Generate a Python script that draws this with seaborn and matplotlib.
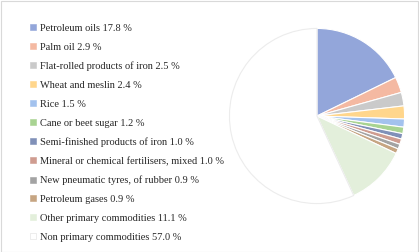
import matplotlib
matplotlib.use("Agg")
import matplotlib.pyplot as plt
import seaborn as sns
from matplotlib.lines import Line2D
from matplotlib.patches import Rectangle

sns.set_theme(style="white")
plt.rcParams['font.family'] = ['Liberation Serif', 'DejaVu Serif']

categories = ["Petroleum oils", "Palm oil", "Flat-rolled products of iron", "Wheat and meslin",
              "Rice", "Cane or beet sugar", "Semi-finished products of iron",
              "Mineral or chemical fertilisers, mixed", "New pneumatic tyres, of rubber",
              "Petroleum gases", "Other primary commodities", "Non primary commodities"]
values = [17.8, 2.9, 2.5, 2.4, 1.5, 1.2, 1.0, 1.0, 0.9, 0.9, 11.1, 57.0]
colors = ["#93a6da", "#f4b9a2", "#cacaca", "#ffd68c", "#a3c2ee", "#a8d392",
          "#8090b8", "#cf9c90", "#a3a3a3", "#c6a582", "#e3efdb", "#ffffff"]

W, H = 419, 252
fig = plt.figure(figsize=(W / 100, H / 100), dpi=100)
fig.patch.set_facecolor("white")
fig.patches.append(Rectangle((0.5 / W, 0.5 / H), 1 - 1.5 / W, 1 - 1.5 / H, transform=fig.transFigure,
                             fill=False, edgecolor="#d9d9d9", linewidth=0.8))

cx, cy, r = 317, 116, 88
ax = fig.add_axes([(cx - r) / W, (H - cy - r) / H, 2 * r / W, 2 * r / H])
wedges, _ = ax.pie(values, colors=colors, startangle=90, counterclock=False,
                   wedgeprops=dict(edgecolor="white", linewidth=0.8))
wedges[-1].set_edgecolor("#ececec")
wedges[-1].set_linewidth(0.8)
ax.set_xlim(-1.005, 1.005)
ax.set_ylim(-1.005, 1.005)
ax.set_aspect("equal")
ax.axis("off")

handles = [Line2D([0], [0], marker="s", linestyle="none", markersize=4.2,
                  markerfacecolor=c, markeredgecolor=("#e0e0e0" if c == "#ffffff" else c),
                  markeredgewidth=0.4) for c in colors]
labels = [f"{n} {v:.1f} %" for n, v in zip(categories, values)]
fig.legend(handles, labels, loc="upper left", bbox_to_anchor=(30 / W, 1 - 23.5 / H),
           frameon=False, fontsize=7.5, handlelength=0.6, handletextpad=0.35,
           labelspacing=0.92, borderpad=0, borderaxespad=0)

fig.savefig("out.png", dpi=100)
